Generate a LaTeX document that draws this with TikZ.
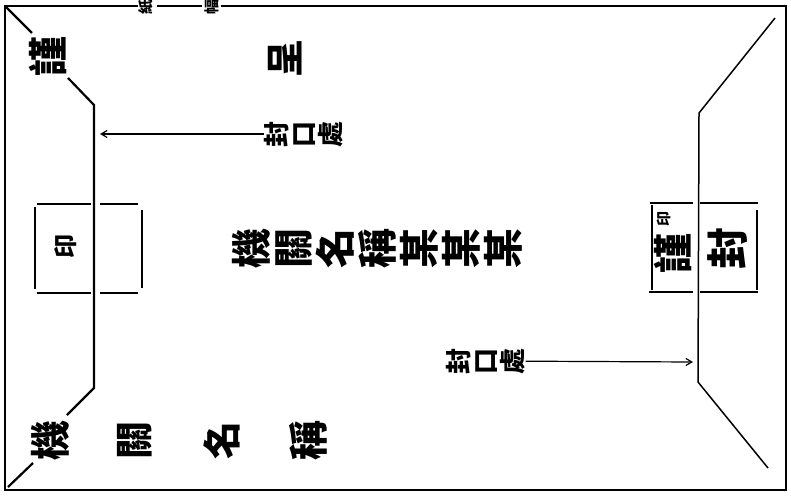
\documentclass[tikz,border=0pt]{standalone}
\usepackage{fontspec}
\newfontfamily\cjk{Noto Sans CJK TC}
\usetikzlibrary{arrows.meta}
\newcommand\cjkfs[2]{\cjk\bfseries\fontsize{#1}{#2}\selectfont}
\begin{document}
\begin{tikzpicture}[x=1pt,y=-1pt,
 vt/.style={rotate=90,inner sep=0pt,align=center},
 frame/.style={line width=2.6pt},
 ln/.style={line width=2.2pt},
 flap/.style={line width=1.5pt},
 arr/.style={line width=1.2pt,-{Straight Barb[length=6pt,width=7pt]}},
]
\useasboundingbox (0,0) rectangle (791,500);
% outer frame
\draw[frame] (138,6) -- (5,6) -- (5,490) -- (786,490) -- (786,6) -- (221,6);
\draw[frame] (157,6) -- (202,6);
\node[vt,font=\cjkfs{15}{15}] (dim1) at (146,7) {紙};
\node[vt,font=\cjkfs{15}{15}] (dim2) at (212,7) {幅};
% left flap
\draw[ln] (6,7) -- (32,33);
\draw[ln] (68,78) -- (94,105) -- (94,388) -- (67,415);
\draw[ln] (33,463) -- (8,487);
\node[vt,font=\cjkfs{40}{40}] (jin1) at (48,57) {謹};
\node[vt,font=\cjkfs{38}{38}] (cheng) at (285,59) {呈};
% left seal box
\draw[ln] (37,204) -- (91,204);
\draw[ln] (100,204) -- (138,204);
\draw[ln] (37,293) -- (91,293);
\draw[ln] (100,293) -- (138,293);
\draw[ln] (35,207) -- (35,289);
\draw[ln] (142,210) -- (142,288);
\node[vt,font=\cjkfs{24}{24}] (yin1) at (66,246) {印};
% top 封口處 with arrow
\node[vt,font=\cjkfs{26}{27}] (fk1) at (304,134) {封\\口\\處};
\coordinate (t1) at (100,134);
\draw[arr] (fk1) -- (t1);
% center text
\node[vt,font=\cjkfs{40}{42}] (name) at (377,248) {機\\關\\名\\稱\\某\\某\\某};
% right flap
\draw[flap] (775,18) -- (699,113) -- (698,382) -- (768,468);
% right seal box
\draw[ln] (650,203) -- (693,203);
\draw[ln] (700,203) -- (758,203);
\draw[ln] (649,292) -- (693,292);
\draw[ln] (700,292) -- (758,292);
\draw[ln] (652,205) -- (652,290);
\draw[ln] (757,210) -- (757,290);
\node[vt,font=\cjkfs{15}{15}] (yin2) at (664,219) {印};
\node[vt,font=\cjkfs{40}{40}] (jin2) at (673,253) {謹};
\node[vt,font=\cjkfs{42}{42}] (feng) at (728,248) {封};
% bottom 封口處 with arrow
\node[vt,font=\cjkfs{26}{27}] (fk2) at (486,361) {封\\口\\處};
\coordinate (t2) at (693,362);
\draw[arr] (fk2) -- (t2);
% bottom names
\node[vt,font=\cjkfs{40}{40}] (b1) at (50,440) {機};
\node[vt,font=\cjkfs{38}{38}] (b2) at (135,440) {關};
\node[vt,font=\cjkfs{38}{38}] (b3) at (222,440) {名};
\node[vt,font=\cjkfs{40}{40}] (b4) at (308,440) {稱};
\end{tikzpicture}
\end{document}
